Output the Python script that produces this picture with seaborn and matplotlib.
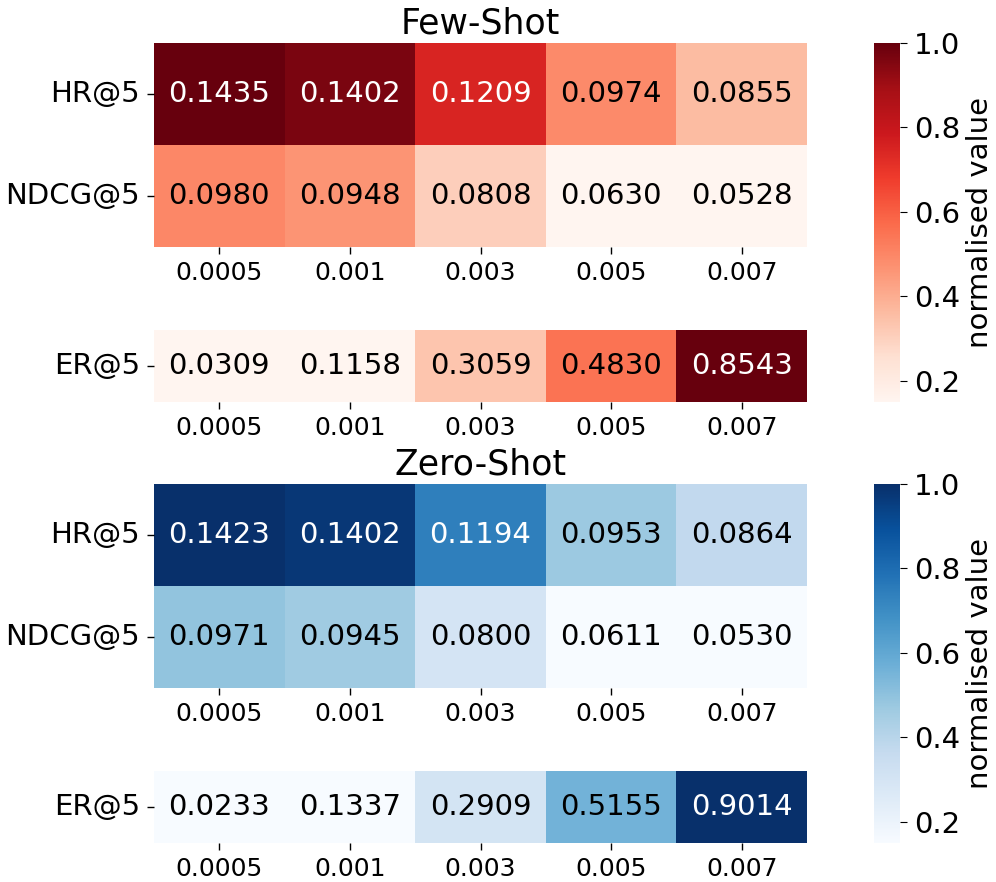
import numpy as np
import pandas as pd
import seaborn as sns
import matplotlib
matplotlib.use("Agg")
import matplotlib.pyplot as plt
from matplotlib.cm import ScalarMappable
from matplotlib.colors import Normalize

# learning rates on the x axis
lrs = ["0.0005", "0.001", "0.003", "0.005", "0.007"]
rank_metrics = ["HR@5", "NDCG@5"]
er_metric = ["ER@5"]

few_hr = [0.1435, 0.1402, 0.1209, 0.0974, 0.0855]
few_ndcg = [0.0980, 0.0948, 0.0808, 0.0630, 0.0528]
few_er = [0.0309, 0.1158, 0.3059, 0.4830, 0.8543]

zero_hr = [0.1423, 0.1402, 0.1194, 0.0953, 0.0864]
zero_ndcg = [0.0971, 0.0945, 0.0800, 0.0611, 0.0530]
zero_er = [0.0233, 0.1337, 0.2909, 0.5155, 0.9014]

VMIN, VMAX = 0.15, 1.0
ANNOT = 21
TICK = 21
XTICK = 18

W, H = 996, 882


def minmax(df):
    arr = df.values
    return (df - arr.min()) / (arr.max() - arr.min())


def box(left, top, right, bottom):
    # pixel box -> figure fraction
    return [left / W, 1 - bottom / H, (right - left) / W, (bottom - top) / H]


def draw(ax, df, cmap):
    norm_df = minmax(df)
    sns.heatmap(norm_df, ax=ax, cmap=cmap, vmin=VMIN, vmax=VMAX,
                annot=df.values, fmt=".4f", cbar=False,
                annot_kws={"size": ANNOT})
    # white text only on the dark cells
    pos = ((norm_df.values - VMIN) / (VMAX - VMIN)).ravel()
    for txt, p in zip(ax.texts, pos):
        txt.set_color("white" if p > 0.6 else "black")
    ax.set_yticklabels(ax.get_yticklabels(), rotation=0, fontsize=TICK)
    ax.set_xticklabels(ax.get_xticklabels(), rotation=0, fontsize=XTICK)
    ax.tick_params(axis="both", length=5, width=1)
    ax.tick_params(axis="y", pad=5)
    ax.tick_params(axis="x", pad=5)
    ax.set_xlabel("")
    ax.set_ylabel("")


def colorbar(fig, cax, cmap):
    sm = ScalarMappable(norm=Normalize(VMIN, VMAX), cmap=cmap)
    cb = fig.colorbar(sm, cax=cax)
    cb.outline.set_visible(False)
    cb.ax.tick_params(labelsize=TICK, length=5, pad=5)
    cb.set_label("normalised value", fontsize=TICK)


fig = plt.figure(figsize=(W / 100, H / 100), dpi=100)

groups = [
    ("Few-Shot", "Reds", few_hr, few_ndcg, few_er, 0),
    ("Zero-Shot", "Blues", zero_hr, zero_ndcg, zero_er, 441),
]

for title, cmap, hr, ndcg, er, dy in groups:
    top_df = pd.DataFrame([hr, ndcg], index=rank_metrics, columns=lrs)
    er_df = pd.DataFrame([er], index=er_metric, columns=lrs)

    ax_top = fig.add_axes(box(154, 43 + dy, 807, 247 + dy))
    ax_er = fig.add_axes(box(154, 330 + dy, 807, 402 + dy))
    cax = fig.add_axes(box(874, 43 + dy, 900, 402 + dy))

    draw(ax_top, top_df, cmap)
    draw(ax_er, er_df, cmap)
    ax_top.set_title(title, fontsize=25, pad=7)
    colorbar(fig, cax, cmap)

fig.savefig("out.png", dpi=100)
